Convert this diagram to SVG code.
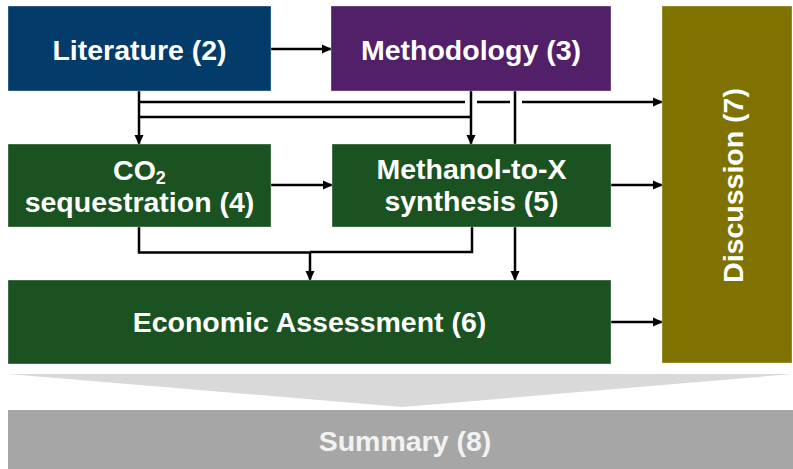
<svg xmlns="http://www.w3.org/2000/svg" width="793" height="469" viewBox="0 0 793 469">
<defs>
<style>
.lbl{font-family:"Liberation Sans",Arial,sans-serif;font-weight:bold;font-size:28.5px;fill:#ffffff;text-anchor:middle}
.box{stroke:#ffffff;stroke-opacity:0.35;stroke-width:1}
.ln{fill:none;stroke:#000000;stroke-width:2.5}
</style>
<marker id="ah" markerUnits="userSpaceOnUse" markerWidth="10" markerHeight="10" refX="9" refY="5" orient="auto">
<path d="M0,0.5 L10,5 L0,9.5 z" fill="#000000"/>
</marker>
</defs>
<rect width="793" height="469" fill="#ffffff"/>
<g id="connectors">
<line class="ln" x1="271" y1="49" x2="331" y2="49" marker-end="url(#ah)"/>
<line class="ln" x1="139" y1="91" x2="139" y2="144" marker-end="url(#ah)"/>
<line class="ln" x1="139" y1="102" x2="465" y2="102"/>
<line class="ln" x1="477" y1="102" x2="510" y2="102"/>
<line class="ln" x1="522" y1="102" x2="662" y2="102" marker-end="url(#ah)"/>
<polyline class="ln" points="139,117 471,117"/>
<line class="ln" x1="471" y1="91" x2="471" y2="144" marker-end="url(#ah)"/>
<line class="ln" x1="515" y1="91" x2="515" y2="280" marker-end="url(#ah)"/>
<line class="ln" x1="271" y1="185" x2="332" y2="185" marker-end="url(#ah)"/>
<line class="ln" x1="611" y1="185" x2="662" y2="185" marker-end="url(#ah)"/>
<line class="ln" x1="611" y1="322" x2="662" y2="322" marker-end="url(#ah)"/>
<polyline class="ln" points="139,227 139,252.5 310,252.5"/>
<polyline class="ln" points="472,227 472,252 310,252"/>
<line class="ln" x1="310" y1="252" x2="310" y2="280" marker-end="url(#ah)"/>
</g>
<g id="literature">
<rect class="box" x="8" y="6" width="263" height="85" fill="#033c6a"/>
<text class="lbl" x="139.5" y="59.5">Literature (2)</text>
</g>
<g id="methodology">
<rect class="box" x="331" y="6" width="280" height="85" fill="#521f69"/>
<text class="lbl" x="471" y="59.5">Methodology (3)</text>
</g>
<g id="co2">
<rect class="box" x="8" y="144" width="263" height="83" fill="#1a5221"/>
<text class="lbl" x="139.5" y="180">CO<tspan font-size="18px" dy="4">2</tspan></text>
<text class="lbl" x="139.5" y="212">sequestration (4)</text>
</g>
<g id="methanol">
<rect class="box" x="332" y="144" width="279" height="83" fill="#1a5221"/>
<text class="lbl" x="471.5" y="178.5">Methanol-to-X</text>
<text class="lbl" x="471.5" y="211">synthesis (5)</text>
</g>
<g id="economic">
<rect class="box" x="8" y="280" width="603" height="84" fill="#1a5221"/>
<text class="lbl" x="309.5" y="332">Economic Assessment (6)</text>
</g>
<g id="discussion">
<rect class="box" x="662" y="6" width="130" height="357" fill="#7f7200"/>
<text class="lbl" transform="translate(743,185.5) rotate(-90)" x="0" y="0">Discussion (7)</text>
</g>
<g id="chevron">
<polygon points="8,374 793,374 402,407" fill="#d9d9d9"/>
</g>
<g id="summary">
<rect x="8" y="410" width="785" height="59" fill="#a6a6a6"/>
<text class="lbl" x="405" y="451" style="fill:#f2f2f2">Summary (8)</text>
</g>
</svg>
